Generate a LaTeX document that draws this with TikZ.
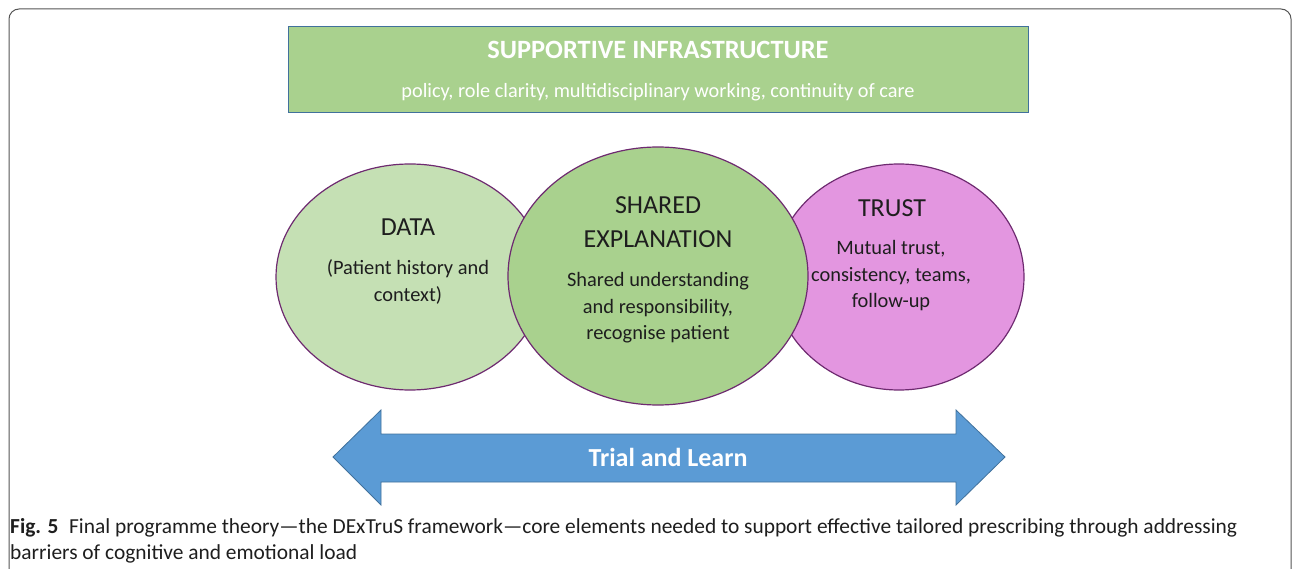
\documentclass[tikz,border=0pt]{standalone}
\usepackage{fontspec}
\setmainfont{Carlito}
\usepackage{xcolor}
\definecolor{leafgreen}{HTML}{A9D18E}
\definecolor{palegreen}{HTML}{C5E0B4}
\definecolor{orchid}{HTML}{E396E0}
\definecolor{plum}{HTML}{6E2A70}
\definecolor{steel}{HTML}{41719C}
\definecolor{sky}{HTML}{5B9BD5}
\definecolor{framegrey}{HTML}{555555}
\definecolor{ink}{HTML}{1E1E1E}
\usetikzlibrary{shapes.geometric, positioning}

\begin{document}
\begin{tikzpicture}[x=1pt, y=-1pt,
  blob/.style={ellipse, draw=plum, line width=1.2pt, inner sep=0pt},
  headtext/.style={text=ink, font=\fontsize{26}{34}\selectfont, align=center},
  bodytext/.style={text=ink, font=\fontsize{20.4}{26.5}\selectfont, align=center}]
  \useasboundingbox (0,0) rectangle (1293,569);
  \draw[framegrey, line width=1pt, rounded corners=10pt] (9,575) -- (9,9) -- (1291,9) -- (1291,575);

  % --- Supportive infrastructure ---
  \node[draw=steel, fill=leafgreen, line width=1pt, minimum width=740pt, minimum height=86pt, inner sep=0pt] (infra) at (658,70) {};
  \node[text=white, font=\fontsize{26.4}{30}\selectfont\bfseries] (infratitle) at (658,50) {SUPPORTIVE INFRASTRUCTURE};
  \node[text=white, font=\fontsize{20.3}{24}\selectfont] (infrabody) at (658,92) {policy, role clarity, multidisciplinary working, continuity of care};

  % --- Data ---
  \node[blob, fill=palegreen, minimum width=268pt, minimum height=226pt] (data) at (410,277) {};
  \node[headtext] (datatitle) at (408,227) {DATA};
  \node[bodytext] (databody) at (408,282) {(Patient history and\\context)};

  % --- Trust ---
  \node[blob, fill=orchid, minimum width=250pt, minimum height=226pt] (trust) at (899,277) {};
  \node[headtext] (trusttitle) at (892,208) {TRUST};
  \node[bodytext] (trustbody) at (891,276) {Mutual trust,\\consistency, teams,\\follow-up};

  % --- Shared explanation ---
  \node[blob, fill=leafgreen, minimum width=300pt, minimum height=258pt] (shared) at (658,276) {};
  \node[headtext] (sharedtitle) at (658,222) {SHARED\\EXPLANATION};
  \node[bodytext] (sharedbody) at (658,308) {Shared understanding\\and responsibility,\\recognise patient};

  % --- Trial and learn ---
  \fill[sky, draw=steel, line width=0.8pt] (333,457) -- (381,410) -- (381,434) -- (956,434) -- (956,410)
    -- (1005,457) -- (956,505) -- (956,482) -- (381,482) -- (381,505) -- cycle;
  \node[text=white, font=\fontsize{26}{30}\selectfont\bfseries] (trial) at (668,457) {Trial and Learn};

  % --- Caption ---
  \node[anchor=north west, align=left, inner sep=0pt, text=ink,
    font=\fontsize{21.4}{26}\selectfont] (caption) at (10,518)
    {\textbf{Fig. 5}\hspace{0.5em}Final programme theory—the DExTruS framework—core elements needed to support effective tailored prescribing through addressing\\barriers of cognitive and emotional load};
\end{tikzpicture}
\end{document}
